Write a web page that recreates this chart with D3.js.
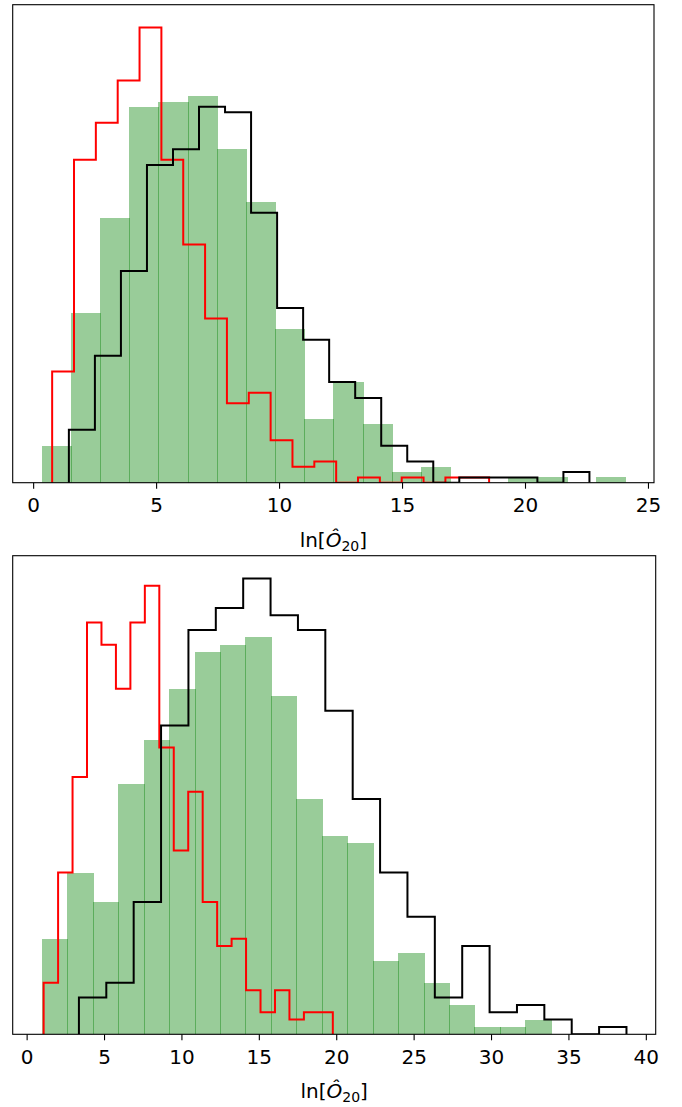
<!DOCTYPE html>
<html>
<head>
<meta charset="utf-8">
<script src="https://cdn.jsdelivr.net/npm/d3@7"></script>
<style>
  html, body { margin: 0; padding: 0; background: #fff; }
  svg { display: block; }
  text { font-family: "DejaVu Sans", sans-serif; }
</style>
</head>
<body>
<svg id="chart" width="682" height="1107"></svg>
<script>
const WIDTH = 682;
const HEIGHT = 1107;

// counts per bin (20 bins each)
const topGreen = [7, 32, 50, 71, 72, 73, 63, 53, 29, 12, 19, 11, 2, 3, 0, 0, 1, 1, 0, 1];
const topRed = [21, 61, 68, 76, 86, 61, 45, 31, 15, 17, 8, 3, 4, 0, 1, 0, 1, 0, 1, 1];
const topBlack = [10, 24, 40, 60, 63, 71, 70, 51, 33, 27, 19, 16, 7, 4, 0, 1, 1, 1, 0, 2];

const bottomGreen = [13, 22, 18, 34, 40, 47, 52, 53, 54, 46, 32, 27, 26, 10, 11, 7, 4, 1, 1, 2];
const bottomRed = [7, 22, 35, 56, 53, 47, 56, 61, 39, 25, 33, 18, 12, 13, 6, 3, 6, 2, 3, 3];
const bottomBlack = [5, 7, 18, 42, 55, 58, 62, 57, 55, 44, 32, 22, 16, 5, 12, 3, 4, 2, 0, 1];

// [first edge, last edge] of each histogram
const topGreenRange = [0.354, 24.06];
const topRedRange = [0.773, 18.54];
const topBlackRange = [1.453, 22.62];
const bottomGreenRange = [0.988, 33.86];
const bottomRedRange = [1.098, 19.78];
const bottomBlackRange = [3.378, 38.75];

const topTicks = [0, 5, 10, 15, 20, 25];
const bottomTicks = [0, 5, 10, 15, 20, 25, 30, 35, 40];

const svg = d3.select("#chart");

const edgesOf = (range, n) =>
  d3.range(n + 1).map(i => range[0] + (range[1] - range[0]) * i / n);

function panel(id, box, series, ticks) {
  const allEdges = series.flatMap(s => s.range);
  const lo = d3.min(allEdges), hi = d3.max(allEdges);
  const pad = (hi - lo) * 0.05;
  const maxCount = d3.max(series.flatMap(s => s.counts));

  const x = d3.scaleLinear()
    .domain([lo - pad, hi + pad])
    .range([box.left, box.right]);
  const y = d3.scaleLinear()
    .domain([0, maxCount * 1.05])
    .range([box.bottom, box.top]);

  svg.append("clipPath")
    .attr("id", id)
    .append("rect")
    .attr("x", box.left)
    .attr("y", box.top)
    .attr("width", box.right - box.left)
    .attr("height", box.bottom - box.top);

  const g = svg.append("g").attr("clip-path", `url(#${id})`);

  series.forEach(s => {
    const edges = edgesOf(s.range, s.counts.length);
    if (s.type === "bar") {
      // filled bars, overlapping by one pixel like the agg renderer
      g.append("g")
        .attr("fill", s.color)
        .attr("fill-opacity", 0.4)
        .attr("shape-rendering", "crispEdges")
        .selectAll("rect")
        .data(s.counts.map((c, i) => ({ c, x0: edges[i], x1: edges[i + 1] })).filter(d => d.c > 0))
        .join("rect")
        .attr("x", d => Math.round(x(d.x0)))
        .attr("width", d => Math.round(x(d.x1)) - Math.round(x(d.x0)) + 1)
        .attr("y", d => Math.round(y(d.c)))
        .attr("height", d => Math.round(y(0)) - Math.round(y(d.c)));
    } else {
      const pts = [[edges[0], 0]];
      s.counts.forEach((c, i) => {
        pts.push([edges[i], c]);
        pts.push([edges[i + 1], c]);
      });
      pts.push([edges[edges.length - 1], 0]);
      g.append("path")
        .datum(pts)
        .attr("fill", "none")
        .attr("stroke", s.color)
        .attr("stroke-width", 2)
        .attr("stroke-linejoin", "miter")
        .attr("d", d3.line().x(d => x(d[0])).y(d => y(d[1])));
    }
  });

  // frame
  svg.append("rect")
    .attr("x", box.left)
    .attr("y", box.top)
    .attr("width", box.right - box.left)
    .attr("height", box.bottom - box.top)
    .attr("fill", "none")
    .attr("stroke", "#000")
    .attr("stroke-width", 1.1);

  const ax = svg.append("g")
    .attr("transform", `translate(0,${box.bottom})`)
    .call(d3.axisBottom(x).tickValues(ticks).tickSize(6).tickPadding(9.5).tickFormat(d3.format("d")));
  ax.select(".domain").remove();
  ax.selectAll(".tick line").attr("stroke", "#000").attr("stroke-width", 1.1);
  ax.selectAll(".tick text")
    .attr("fill", "#000")
    .attr("font-size", 20)
    .attr("font-family", "DejaVu Sans");

  // x label: ln[Ô_20]
  const label = svg.append("text")
    .attr("x", (box.left + box.right) / 2)
    .attr("y", box.bottom + 64)
    .attr("text-anchor", "middle")
    .attr("font-size", 20)
    .attr("fill", "#000");
  label.append("tspan").text("ln[");
  label.append("tspan").attr("font-style", "italic").text("Ô");
  label.append("tspan").attr("font-size", 14).attr("dy", 4).text("20");
  label.append("tspan").attr("dy", -4).text("]");
}

panel("clip-top",
  { left: 12.7, right: 654, top: 4.7, bottom: 482.7 },
  [
    { type: "bar", color: "green", counts: topGreen, range: topGreenRange },
    { type: "step", color: "red", counts: topRed, range: topRedRange },
    { type: "step", color: "black", counts: topBlack, range: topBlackRange }
  ],
  topTicks);

panel("clip-bottom",
  { left: 12.7, right: 655.7, top: 555.7, bottom: 1034.3 },
  [
    { type: "bar", color: "green", counts: bottomGreen, range: bottomGreenRange },
    { type: "step", color: "red", counts: bottomRed, range: bottomRedRange },
    { type: "step", color: "black", counts: bottomBlack, range: bottomBlackRange }
  ],
  bottomTicks);
</script>
</body>
</html>
